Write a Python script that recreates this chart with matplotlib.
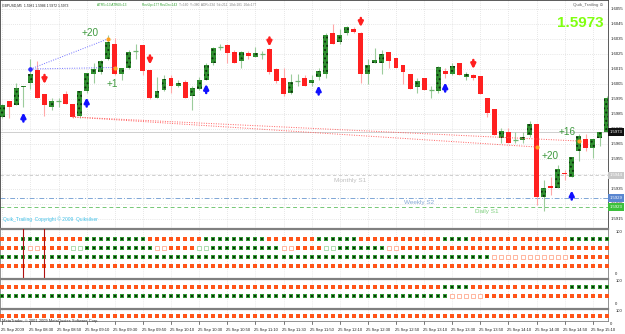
import matplotlib
matplotlib.use('Agg')
import matplotlib.pyplot as plt
from matplotlib.transforms import blended_transform_factory as btf
import numpy as np

plt.rcParams['font.family'] = ['Liberation Sans', 'DejaVu Sans']
plt.rcParams['hatch.linewidth'] = 0.9

# ---------------- data ----------------
opens = [1.5983,1.5994,1.5991,1.6003,1.6006,1.6014,1.5998,1.5990,1.5994,1.5998,1.5992,1.5984,1.6000,1.6012,1.6013,1.6022,
         1.6032,1.6012,1.6016,1.6027,1.6031,1.6014,1.5996,1.6001,1.6009,1.6004,1.6006,1.5997,1.6002,1.6008,1.6019,1.6030,
         1.6031,1.6026,1.6020,1.6026,1.6023,1.6025,1.6028,1.6015,1.6009,1.5999,1.6007,1.6009,1.6006,1.6010,1.6012,1.6039,
         1.6033,1.6039,1.6042,1.6039,1.6012,1.6019,1.6019,1.6026,1.6022,1.6018,1.6012,1.6003,1.6009,1.6001,1.6000,1.6014,
         1.6012,1.6019,1.6010,1.6011,1.6010,1.5996,1.5988,1.5969,1.5973,1.5968,1.5968,1.5971,1.5978,1.5930,1.5937,1.5936,
         1.5946,1.5943,1.5960,1.5968,1.5962,1.5969,1.5973]
highs = [1.5992,1.5994,1.6006,1.6004,1.6022,1.6020,1.5998,1.5996,1.5996,1.6000,1.5992,1.6000,1.6012,1.6019,1.6021,1.6038,
         1.6036,1.6016,1.6028,1.6032,1.6031,1.6014,1.6010,1.6011,1.6011,1.6008,1.6008,1.6004,1.6010,1.6019,1.6030,1.6032,
         1.6032,1.6028,1.6027,1.6027,1.6030,1.6027,1.6029,1.6016,1.6016,1.6012,1.6012,1.6011,1.6011,1.6016,1.6039,1.6045,
         1.6042,1.6044,1.6043,1.6040,1.6022,1.6029,1.6028,1.6026,1.6022,1.6018,1.6012,1.6009,1.6009,1.6004,1.6017,1.6016,
         1.6019,1.6019,1.6013,1.6012,1.6010,1.5996,1.5988,1.5976,1.5976,1.5973,1.5973,1.5980,1.5978,1.5941,1.5943,1.5951,
         1.5948,1.5956,1.5972,1.5972,1.5968,1.5973,1.5997]
lows = [1.5982,1.5982,1.5991,1.5990,1.6002,1.5996,1.5984,1.5988,1.5990,1.5992,1.5982,1.5982,1.5999,1.6006,1.6012,1.6021,
        1.6011,1.6008,1.6015,1.6022,1.6011,1.5995,1.5996,1.6000,1.5999,1.6003,1.5996,1.5988,1.6001,1.6008,1.6018,1.6028,
        1.6019,1.6019,1.6016,1.6022,1.6023,1.6022,1.6012,1.6006,1.5997,1.5998,1.6004,1.6004,1.6004,1.6008,1.6009,1.6032,
        1.6032,1.6038,1.6039,1.6006,1.6005,1.6019,1.6012,1.6016,1.6016,1.6005,1.6002,1.5999,1.6001,1.5996,1.5999,1.6009,
        1.6011,1.6011,1.6008,1.6008,1.5998,1.5983,1.5971,1.5966,1.5966,1.5966,1.5966,1.5970,1.5924,1.5920,1.5931,1.5936,
        1.5941,1.5943,1.5954,1.5960,1.5956,1.5964,1.5973]
closes = [1.5991,1.5990,1.6002,1.6004,1.6012,1.5996,1.5991,1.5994,1.5994,1.5992,1.5983,1.6000,1.6012,1.6015,1.6020,1.6033,
          1.6012,1.6016,1.6026,1.6027,1.6014,1.5996,1.6000,1.6008,1.6004,1.6006,1.5996,1.6002,1.6008,1.6018,1.6029,1.6030,
          1.6026,1.6019,1.6026,1.6024,1.6026,1.6025,1.6013,1.6007,1.5998,1.6006,1.6007,1.6004,1.6008,1.6014,1.6038,1.6032,
          1.6038,1.6043,1.6040,1.6012,1.6018,1.6021,1.6025,1.6020,1.6016,1.6013,1.6002,1.6007,1.6001,1.6001,1.6016,1.6012,
          1.6017,1.6011,1.6012,1.6009,1.5998,1.5986,1.5971,1.5974,1.5966,1.5968,1.5970,1.5978,1.5930,1.5936,1.5936,1.5948,
          1.5945,1.5956,1.5970,1.5962,1.5968,1.5973,1.5996]

price_ticks = [1.5915,1.5925,1.5935,1.5945,1.5955,1.5965,1.5975,1.5985,1.5995,1.6005,1.6015,1.6025,1.6035,1.6045,1.6055]
time_labels = ["25 Sep 2009","25 Sep 08:30","25 Sep 08:50","25 Sep 09:10","25 Sep 09:30","25 Sep 09:50",
               "25 Sep 10:10","25 Sep 10:30","25 Sep 10:50","25 Sep 11:10","25 Sep 11:30","25 Sep 11:50",
               "25 Sep 12:10","25 Sep 12:30","25 Sep 12:50","25 Sep 13:10","25 Sep 13:30","25 Sep 13:50",
               "25 Sep 14:10","25 Sep 14:30","25 Sep 14:50","25 Sep 15:10"]

buy_arrow_bars = [3, 12, 29, 45, 63, 81]
buy_arrow_prices = [1.5983, 1.5993, 1.6002, 1.6001, 1.6003, 1.5931]
sell_arrow_bars = [6, 21, 38, 51, 67]
sell_arrow_prices = [1.6008, 1.6021, 1.6033, 1.6046, 1.6018]

profit_labels = ["+20", "+1", "+20", "+16"]
profit_bars = [12.5, 15.6, 77.9, 80.3]
profit_prices = [1.6039, 1.6005, 1.5957, 1.5973]

long_trades = [((4, 1.6015), (15, 1.6035)), ((4, 1.6015), (16, 1.6016))]
short_trades = [((10, 1.5983), (76, 1.5963)), ((10, 1.5983), (82, 1.5967))]

bid = 1.5973
monthly_s1 = 1.5944
weekly_s2 = 1.5929
daily_s1 = 1.5923

# indicator states per bar: o=orange, g=green, r=hollow orange, h=hollow green
p1_rows = ["ooo" "ggg" "oooooo" "ggggggggg" "oooooooo" "ggggggggg" "ooooooo" "gggggg" "oooooooooooo" "gggg"
           "oooooooooooooo" "gggggg",
           "ooo" "g" "rr" "oooo" "hh" "gggggggggg" "rr" "oooo" "hh" "gggggggggg" "rr" "oooo" "hh" "ggggggg" "rr"
           "oooooooooooooooooooooooooooooo",
           "gggggggggggggggggggggggggggggggggggggggggggggggggggggggggggggggggggggg" "rrrrrrrrrrr" "oooooo",
           "ooooooooooooooooooooooooooooooooooooooooooooooooooooooooooooooooooooooooooooooooooooooo"]
p2_rows = ["ooooooooooooooooooooooooooooooooooooooooooooooooooooooooooooooo" "gggg" "oooooooooooooo" "gggggg",
           "gggggggggggggggggggggggggggggggggggggggggggggggggggggggggggggggg" "rrrrr" "oooooooooooooooooo"]
p3_rows = ["ooooooooooooooooooooooooooooooooooooooooooooooooooooooooooooooooooooooooooooooooooooooo"]

# ---------------- layout ----------------
W, H = 625, 334
fig = plt.figure(figsize=(W / 100, H / 100), dpi=100)
fig.patch.set_facecolor('white')

def fax(x0, y0, x1, y1):
    return fig.add_axes([x0 / W, 1 - y1 / H, (x1 - x0) / W, (y1 - y0) / H])

N = len(opens)
XL = (-0.33, 86.16)

ax = fax(0, 0, 608, 228)
ax.set_xlim(*XL)
ax.set_ylim(1.5909, 1.6061)
for s in ax.spines.values():
    s.set_color('#404040'); s.set_linewidth(0.6)
ax.set_xticks([]); ax.set_yticks([])

# grid
for b in range(0, N, 4):
    ax.axvline(b, color='#d0d0d0', lw=0.5, ls=(0, (1, 2)), zorder=0)
for p in price_ticks:
    ax.axhline(p, color='#d0d0d0', lw=0.5, ls=(0, (1, 2)), zorder=0)

# support lines
ax.axhline(bid, color='#c8c8c8', lw=0.6, zorder=1)
ax.axhline(monthly_s1, color='#c8c8c8', lw=0.6, ls=(0, (4, 3)), zorder=1)
ax.axhline(weekly_s2, color='#7fa6d6', lw=0.7, ls=(0, (5, 2, 1, 2)), zorder=1)
ax.axhline(daily_s1, color='#76c876', lw=0.7, ls=(0, (4, 3)), zorder=1)
ax.text(47.2, monthly_s1 - 0.00015, 'Monthly S1', fontsize=4.6, color='#c0c0c0', va='top')
ax.text(57.2, weekly_s2 - 0.00015, 'Weekly S2', fontsize=4.6, color='#86a8d4', va='top')
ax.text(67.3, daily_s1 - 0.00015, 'Daily S1', fontsize=4.6, color='#80d080', va='top')

# candles
bw = 0.7
for i in range(N):
    o, h, l, c = opens[i], highs[i], lows[i], closes[i]
    if c > o:
        ax.vlines(i, l, h, color='#9ccc9c', lw=0.8, zorder=2)
        ax.bar(i, c - o, bw, bottom=o, color='#2f8f2f', lw=0, zorder=3)
        ax.bar(i, c - o, bw, bottom=o, facecolor='none', edgecolor='#0e2e0e', hatch='....', lw=0, zorder=4)
    elif c < o:
        ax.vlines(i, l, h, color='#ffa8a8', lw=0.8, zorder=2)
        ax.bar(i, o - c, bw, bottom=c, color='#ff2020', lw=0, zorder=3)
    else:
        ax.vlines(i, l, h, color='#9ccc9c', lw=0.8, zorder=2)
        ax.hlines(o, i - bw / 2, i + bw / 2, color='#6fb46f', lw=0.9, zorder=3)

# trade lines
for (x0, y0), (x1, y1) in long_trades:
    ax.plot([x0, x1], [y0, y1], color='#7070ff', lw=0.7, ls=(0, (1, 1.5)), zorder=5)
    ax.plot([x0], [y0], 'o', ms=2, color='#3030ff', zorder=6)
    ax.plot([x1], [y1], 'o', ms=2, color='#ffa020', zorder=6)
for (x0, y0), (x1, y1) in short_trades:
    ax.plot([x0, x1], [y0, y1], color='#ff6060', lw=0.7, ls=(0, (1, 1.5)), zorder=5)
    ax.plot([x1], [y1], 'o', ms=2, color='#ffa020', zorder=6)

# arrows
for b, p in zip(buy_arrow_bars, buy_arrow_prices):
    ax.annotate('', xy=(b, p + 0.0003), xycoords='data', xytext=(0, -6.5), textcoords='offset points',
                arrowprops=dict(arrowstyle='-|>', color='#1010ff', lw=1.8, mutation_scale=7,
                                shrinkA=0, shrinkB=0), zorder=7)
for b, p in zip(sell_arrow_bars, sell_arrow_prices):
    ax.annotate('', xy=(b, p - 0.0003), xycoords='data', xytext=(0, 6.5), textcoords='offset points',
                arrowprops=dict(arrowstyle='-|>', color='#ff2020', lw=1.8, mutation_scale=7,
                                shrinkA=0, shrinkB=0), zorder=7)

for t, b, p in zip(profit_labels, profit_bars, profit_prices):
    ax.text(b, p, t, fontsize=7.2, color='#3f9a3f', ha='center', va='center', zorder=8)

# texts in main panel
tr = ax.transAxes
ax.text(0.004, 0.985, 'GBPUSD,M5  1.5981 1.5986 1.5972 1.5973', fontsize=2.4, color='#202020', va='top', transform=tr)
ax.text(0.159, 0.985, 'ATR5=13 ATR60=13', fontsize=2.3, color='#30a030', va='top', transform=tr)
ax.text(0.234, 0.985, 'RevUp=177 RevDn=143', fontsize=2.3, color='#30a030', va='top', transform=tr)
ax.text(0.294, 0.985, 'T=160  Y=380  ADR=234  5d=211  10d=181  20d=177', fontsize=2.3, color='#808080', va='top',
        transform=tr)
ax.text(0.992, 0.985, 'Quik_Trailing \u2299', fontsize=3.2, color='#606060', va='top', ha='right', transform=tr)
ax.text(0.992, 0.93, '1.5973', fontsize=11, fontweight='bold', color='#80ff10', va='top', ha='right', transform=tr)
ax.text(0.005, 0.025, 'Quik_Trailing  Copyright \u00a9 2009  Quiksilver', fontsize=3.5, color='#40c0e8',
        va='bottom', transform=tr)

# price axis
ytr = btf(ax.transAxes, ax.transData)
for p in price_ticks:
    ax.text(1.004, p, f'{p:.4f}', fontsize=3.1, color='#202020', va='center', transform=ytr, clip_on=False)
boxes = [(bid, '#101010', 'white'), (monthly_s1, '#c8c8c8', 'white'), (weekly_s2, '#5a86d0', 'white'),
         (daily_s1, '#3cc03c', 'white')]
for p, bg, fg in boxes:
    ax.text(1.002, p, f'{p:.4f}', fontsize=3.1, color=fg, va='center', transform=ytr, clip_on=False,
            bbox=dict(boxstyle='square,pad=0.35', fc=bg, ec='none'))

# ---------------- indicator panels ----------------
colors = {'o': '#ff5418', 'g': '#2f962f', 'r': '#ff9a7a', 'h': '#8ed08e'}

def panel(y0, y1, rows, row_ys, labels):
    a = fax(0, y0, 608, y1)
    a.set_xlim(*XL)
    a.set_ylim(y1, y0)
    a.set_xticks([]); a.set_yticks([])
    for s in a.spines.values():
        s.set_color('#808080'); s.set_linewidth(0.6)
    a.spines['top'].set_linewidth(1.6)
    for b in range(0, N, 4):
        a.axvline(b, color='#d8d8d8', lw=0.5, ls=(0, (1, 2)), zorder=0)
    for row, ry in zip(rows, row_ys):
        for i, ch in enumerate(row[:N]):
            if ch in 'og':
                a.scatter(i, ry, marker='s', s=7, color=colors[ch], lw=0, zorder=3)
                if ch == 'g':
                    a.scatter(i, ry, marker='s', s=0.8, color='#0c300c', lw=0, zorder=4)
            else:
                a.scatter(i, ry, marker='s', s=5, facecolor='white', edgecolor=colors[ch], lw=0.5, zorder=3)
    ytr2 = btf(a.transAxes, a.transData)
    for txt, yy in labels:
        a.text(1.012, yy, txt, fontsize=3.0, color='#202020', va='center', transform=ytr2, clip_on=False)
    return a

p1 = panel(229, 278, p1_rows, [239, 248, 257, 266], [('100', 232), ('0', 274)])
p1.axvline(3, color='#b01010', lw=0.8, zorder=5)
p1.axvline(6, color='#b01010', lw=0.8, zorder=5)
p2 = panel(279, 308, p2_rows, [287, 296], [('100', 281), ('0', 304)])
p3 = panel(309, 321, p3_rows, [316], [('100', 311)])
fig.text(610 / W, 1 - 324 / H, '0', fontsize=3.0, color='#202020', va='center')

fig.text(2 / W, 1 - 321 / H, 'MetaTrader, \u00a9 2001-2009 MetaQuotes Software Corp.', fontsize=2.9,
         color='#303030', va='center')

# time axis
ttr = btf(p3.transData, fig.transFigure)
for k, lab in enumerate(time_labels):
    b = 4 * k
    p3.text(b - 0.2, 1 - 330 / H, lab, fontsize=3.0, color='#202020', va='center', ha='left',
            transform=ttr, clip_on=False)
    p3.plot([b, b], [1 - 321 / H, 1 - 324 / H], color='#404040', lw=0.5, transform=ttr, clip_on=False)

fig.savefig('out.png', dpi=100, facecolor='white')
